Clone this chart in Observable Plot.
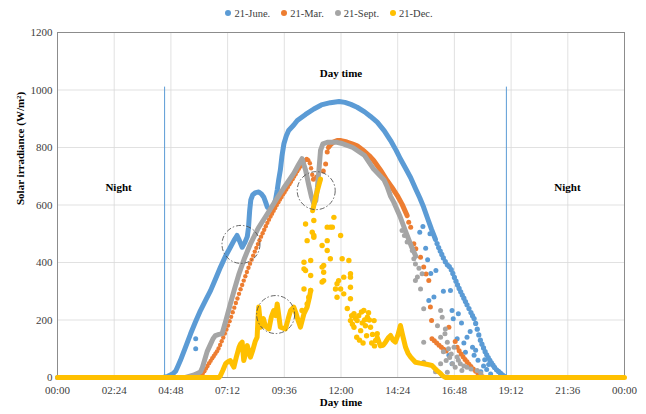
<!DOCTYPE html>
<html><head><meta charset="utf-8">
<script src="https://cdn.jsdelivr.net/npm/d3@7"></script>
<script src="https://cdn.jsdelivr.net/npm/@observablehq/plot@0.6"></script>
<style>
body{margin:0;background:#fff;font-family:'Liberation Serif','Times New Roman','DejaVu Serif',serif;}
#legend{height:26px;display:flex;justify-content:center;align-items:center;gap:11px;font-size:10.5px;color:#404040;padding-left:12px;box-sizing:border-box}
.item{display:flex;align-items:center;gap:3px}
.sw{width:6px;height:6px;border-radius:50%}
svg text{font-family:'Liberation Serif','Times New Roman','DejaVu Serif',serif !important;}
</style></head><body>
<div id="legend"></div><div id="chart"></div>
<script>
const seriesNames = ["21-June.", "21-Mar.", "21-Sept.", "21-Dec."];
const seriesColors = ["#5B9BD5", "#ED7D31", "#A5A5A5", "#FFC000"];
const xTickMinutes = [0, 144, 288, 432, 576, 720, 864, 1008, 1152, 1296, 1440];
const xTickLabels = ["00:00","02:24","04:48","07:12","09:36","12:00","14:24","16:48","19:12","21:36","00:00"];
const yTicks = [0, 200, 400, 600, 800, 1000, 1200];

// 21-June
const juneLine = [["00:00",0],["04:28",0],["04:40",4],["04:52",12],["05:00",22],["05:06",40],["05:12",59],["05:25",105],["05:38",152],["05:50",192],["06:03",233],["06:16",268],["06:29",303],["06:41",342],["06:54",384],["07:06",420],["07:19",453],["07:28",476],["07:36",494],["07:42",476],["07:49",453],["07:56",470],["08:02",490],["08:05",520],["08:08",580],["08:11",618],["08:16",636],["08:23",643],["08:31",645],["08:38",638],["08:44",627],["08:49",608],["08:53",592],["09:02",585],["09:10",600],["09:14",620],["09:18",652],["09:22",690],["09:26",722],["09:30",770],["09:35",813],["09:41",840],["09:47",859],["10:00",878],["10:09",894],["10:30",915],["10:51",934],["11:10",948],["11:33",956],["11:55",960],["12:10",957],["12:25",950],["12:41",940],["13:00",924],["13:15",908],["13:32",888],["13:50",858],["14:06",824],["14:20",790],["14:31",760],["14:45",725],["14:57",695],["15:10",655],["15:20",625],["15:30",592],["15:40",553],["15:50",515],["16:00",480]];
const juneEdge = [["16:04",466],["16:08",452],["16:12",440],["16:16",428],["16:20",416],["16:25",403],["16:30",392],["16:35",386],["16:40",375],["16:44",362],["16:48",348],["16:52",335],["16:56",322],["17:00",310],["17:04",298],["17:08",287],["17:12",276],["17:16",264],["17:20",253],["17:25",240],["17:30",226],["17:34",215],["17:38",205],["17:42",188],["17:46",168],["17:50",148],["17:54",130],["17:58",116],["18:02",103],["18:06",90],["18:10",79],["18:14",69],["18:18",60],["18:22",51],["18:26",43],["18:30",35],["18:35",27],["18:40",21],["18:45",15],["18:50",9],["18:55",4],["19:00",0]];
const juneScatter = [["05:51",135],["05:51",100],["15:20",505],["15:28",525],["15:46",500],["15:40",410],["15:48",362],["16:01",372],["15:43",268],["15:56",280],["16:38",303],["16:42",233],["16:45",204],["16:58",222],["17:20",140],["17:34",105],["17:16",88],["17:38",77],["16:34",77],["16:42",48],["17:06",190],["17:28",160],["17:48",60],["18:02",40],["18:10",28],["17:55",20],["18:20",12],["16:55",135],["15:35",450],["16:20",300],["17:12",120],["17:42",95],["18:05",62],["18:15",45]];

// 21-Mar
const marchRise = [["06:05",8],["06:09",14],["06:13",22],["06:17",31],["06:21",40],["06:25",50],["06:29",58],["06:33",67],["06:37",75],["06:41",83],["06:45",91],["06:49",101],["06:53",113],["06:57",126],["07:01",139],["07:05",153],["07:09",167],["07:13",181],["07:17",196],["07:21",211],["07:25",227],["07:29",243],["07:33",259],["07:37",275],["07:41",291],["07:45",307],["07:49",322],["07:53",337],["07:57",352],["08:01",367],["08:05",382],["08:09",396],["08:13",410],["08:17",424],["08:21",438],["08:25",451],["08:29",464],["08:33",477],["08:37",490],["08:41",502],["08:45",514],["08:49",526],["08:53",538],["08:57",549],["09:01",560],["09:05",570],["09:09",580],["09:13",590],["09:17",600],["09:21",610],["09:25",619],["09:29",628],["09:33",637],["09:37",645],["09:41",654],["09:45",663],["09:49",672],["09:53",681],["09:57",690],["10:01",699],["10:05",708],["10:09",717],["10:13",726],["10:17",734],["10:21",742],["10:25",750],["10:29",756],["10:33",760],["10:37",756],["10:41",745],["10:44",728],["10:47",705]];
const marchLine = [["11:28",800],["11:35",812],["11:42",820],["11:50",824],["12:00",824],["12:15",819],["12:30",812],["12:41",806],["13:00",786],["13:12",771],["13:23",755],["13:40",722],["13:57",685],["14:10",660],["14:23",633],["14:35",603],["14:48",563]];
const marchScatter = [["10:50",690],["10:58",697],["11:06",685],["11:15",718],["11:21",743],["11:25",784],["14:52",540],["14:57",523],["15:05",465],["15:10",448],["15:22",418],["15:30",384],["15:36",360],["15:43",337],["15:47",245],["15:50",198],["15:51",135],["15:57",128],["16:03",120],["16:09",112],["16:15",105],["16:21",98],["16:27",92],["16:34",175],["16:50",125],["16:55",105],["17:00",93],["17:05",82],["17:10",72],["17:15",63],["17:20",55],["17:25",46],["17:30",38],["17:36",30],["17:42",22],["17:48",14],["17:54",8],["18:00",3]];

// 21-Sept
const septLine = [["05:25",0],["05:45",8],["06:03",19],["06:08",35],["06:12",53],["06:20",90],["06:29",117],["06:35",135],["06:41",146],["06:50",150],["06:58",152],["07:08",200],["07:19",256],["07:30",310],["07:41",361],["07:55",415],["08:10",465],["08:30",520],["08:53",569],["09:15",618],["09:35",660],["10:00",710],["10:12",740],["10:21",761],["10:30",722],["10:38",670],["10:45",628],["10:51",604],["10:56",615],["11:00",660],["11:04",722],["11:08",790],["11:14",813],["11:25",818],["11:50",818],["12:00",815],["12:30",800],["13:00",772],["13:23",725],["13:49",688],["13:57",665],["14:06",630],["14:14",610],["14:30",560],["14:45",505],["15:00",452],["15:10",422]];
const septScatter = [["14:35",511],["14:41",494],["14:48",471],["15:01",442],["15:05",413],["15:09",395],["15:26",361],["15:09",337],["15:22",308],["15:30",239],["16:13",233],["16:17",210],["16:25",169],["15:30",123],["16:13",140],["16:24",152],["16:30",123],["16:33",100],["16:40",82],["16:43",48],["16:13",48],["16:50",36],["17:07",24],["16:27",59],["15:30",53],["16:47",105],["16:55",71],["17:03",48],["17:20",36],["17:46",24],["15:18",380],["15:14",350],["16:05",180],["16:20",90],["16:36",70],["16:58",60],["17:12",40],["17:30",30],["17:55",15],["16:00",20],["16:30",18]];

// 21-Dec
const decMorning = [["00:00",0],["06:50",0],["06:54",7],["07:00",25],["07:07",48],["07:13",55],["07:19",59],["07:24",45],["07:28",36],["07:34",70],["07:41",105],["07:45",117],["07:49",123],["07:53",59],["07:58",85],["08:02",111],["08:06",90],["08:10",71],["08:16",95],["08:22",125],["08:27",140],["08:29",200],["08:31",245],["08:34",205],["08:36",175],["08:43",205],["08:48",178],["08:57",169],["09:03",210],["09:09",233],["09:14",215],["09:18",256],["09:26",175],["09:33",172],["09:39",169],["09:46",205],["09:52",233],["10:00",245],["10:06",222],["10:12",195],["10:17",175],["10:26",222],["10:34",245],["10:40",280],["10:43",303]];
const decStreak = [["10:48",580],["10:52",605],["10:56",630],["11:00",650],["11:04",670],["11:08",690]];
const decScatter = [["10:51",546],["10:30",534],["10:47",505],["10:34",476],["10:51",494],["11:42",557],["11:25",523],["11:38",523],["11:59",494],["11:12",459],["11:25",442],["11:33",413],["11:25",476],["10:26",401],["10:43",407],["12:03",413],["12:20",407],["11:12",384],["10:26",378],["10:43",355],["11:16",366],["11:12",332],["11:54",337],["11:46",308],["11:59",308],["12:07",291],["12:24",361],["12:24",314],["12:24",274],["11:50",279],["10:26",308],["10:43",303],["10:38",279],["10:34",256],["10:51",488],["11:33",523],["11:16",390],["11:16",337],["10:30",372],["12:07",349],["12:24",349],["11:50",326],["10:21",233],["12:24",198],["12:16",240],["12:29",185],["12:27",215],["12:33",222],["12:37",205],["12:41",198],["12:33",175],["12:40",140],["12:45",215],["12:47",130],["12:50",163],["12:52",228],["12:54",190],["12:56",120],["12:58",233],["13:00",200],["13:02",180],["13:05",145],["13:07",210],["13:10",225],["13:12",200],["13:15",175],["13:18",120],["13:20",150],["13:24",198],["13:25",110],["13:28",129],["13:32",152]];
const decAfternoon = [["13:32",140],["13:40",110],["13:47",112],["13:53",123],["14:00",138],["14:06",146],["14:12",130],["14:18",123],["14:25",150],["14:31",181],["14:36",150],["14:44",105],["14:50",85],["14:57",71],["15:09",53],["15:20",50],["15:30",48],["15:40",45],["15:51",42],["15:58",32],["16:04",24],["16:12",15],["16:17",7],["16:25",0],["24:00",0]];

// annotations
const dayBoundTimes = ["04:32", "19:00"];
const dayBoundTop = 1010;
const noteTexts = ["Night", "Day time", "Night"];
const noteTimes = ["02:35", "12:00", "21:35"];
const noteValues = [660, 1057, 660];
const circleTimes = ["07:46", "10:57", "09:14"];
const circleValues = [463, 650, 219];
const yTitle = "Solar irradiance (W/m²)";
const xTitle = "Day time";

const serif = "'Liberation Serif','Times New Roman','DejaVu Serif',serif";
const toMin = s => { const [h, m] = s.split(":").map(Number); return h * 60 + m; };
const rows = arr => arr.map(([t, v]) => ({t: toMin(t), v}));

// legend
const leg = document.getElementById("legend");
seriesNames.forEach((n, i) => {
  const it = document.createElement("div"); it.className = "item";
  const sw = document.createElement("span"); sw.className = "sw"; sw.style.background = seriesColors[i];
  const tx = document.createElement("span"); tx.textContent = n;
  it.appendChild(sw); it.appendChild(tx); leg.appendChild(it);
});

const lineOpts = c => ({x: "t", y: "v", stroke: c, strokeWidth: 5, strokeLinejoin: "round", strokeLinecap: "round", curve: "linear"});
const dotOpts = (c, r = 2.5) => ({x: "t", y: "v", r, fill: c, stroke: "none"});

const chart = Plot.plot({
  width: 646,
  height: 388,
  marginLeft: 57,
  marginRight: 22,
  marginTop: 6,
  marginBottom: 37,
  style: {fontFamily: serif, fontSize: "11px", background: "#fff", color: "#404040"},
  x: {domain: [0, 1440]},
  y: {domain: [0, 1200]},
  marks: [
    Plot.gridX(xTickMinutes, {stroke: "#d9d9d9", strokeOpacity: 1, strokeWidth: 0.8}),
    Plot.gridY(yTicks, {stroke: "#d9d9d9", strokeOpacity: 1, strokeWidth: 0.8}),
    Plot.frame({stroke: "#8c8c8c", strokeWidth: 1}),
    Plot.ruleX(dayBoundTimes, {x: d => toMin(d), y1: 0, y2: dayBoundTop, stroke: seriesColors[0], strokeWidth: 1}),
    // June
    Plot.line(rows(juneLine), lineOpts(seriesColors[0])),
    Plot.dot(rows(juneEdge), dotOpts(seriesColors[0], 2.6)),
    Plot.dot(rows(juneScatter), dotOpts(seriesColors[0])),
    // March
    Plot.dot(rows(marchRise), dotOpts(seriesColors[1], 2.2)),
    Plot.line(rows(marchLine), lineOpts(seriesColors[1])),
    Plot.dot(rows(marchScatter), dotOpts(seriesColors[1])),
    // Sept
    Plot.line(rows(septLine), lineOpts(seriesColors[2])),
    Plot.dot(rows(septScatter), dotOpts(seriesColors[2])),
    // Dec
    Plot.line(rows(decMorning), lineOpts(seriesColors[3])),
    Plot.line(rows(decStreak), lineOpts(seriesColors[3])),
    Plot.dot(rows(decScatter), dotOpts(seriesColors[3], 2.7)),
    Plot.line(rows(decAfternoon), lineOpts(seriesColors[3])),
    // circles
    Plot.dot(circleTimes, {x: d => toMin(d), y: (d, i) => circleValues[i], r: 19, fill: "none", stroke: "#555", strokeWidth: 0.9, strokeDasharray: "5,2,1.5,2"}),
    // notes
    Plot.text(noteTexts, {x: (d, i) => toMin(noteTimes[i]), y: (d, i) => noteValues[i], text: d => d, fontWeight: "bold", fontSize: 11, fill: "#000", fontFamily: serif}),
    Plot.axisX(xTickMinutes, {tickSize: 0, tickPadding: 9, tickFormat: (d, i) => xTickLabels[i], label: null, fontSize: 11, fontFamily: serif}),
    Plot.axisY(yTicks, {tickSize: 0, tickPadding: 5, tickFormat: d => String(d), label: null, fontSize: 11, fontFamily: serif}),
    Plot.text([yTitle], {frameAnchor: "left", dx: -37, rotate: -90, fontWeight: "bold", fontSize: 11, fill: "#000", fontFamily: serif}),
    Plot.text([xTitle], {frameAnchor: "bottom", dy: 28, fontWeight: "bold", fontSize: 11, fill: "#000", fontFamily: serif})
  ]
});
document.getElementById("chart").appendChild(chart);
</script>
</body></html>
